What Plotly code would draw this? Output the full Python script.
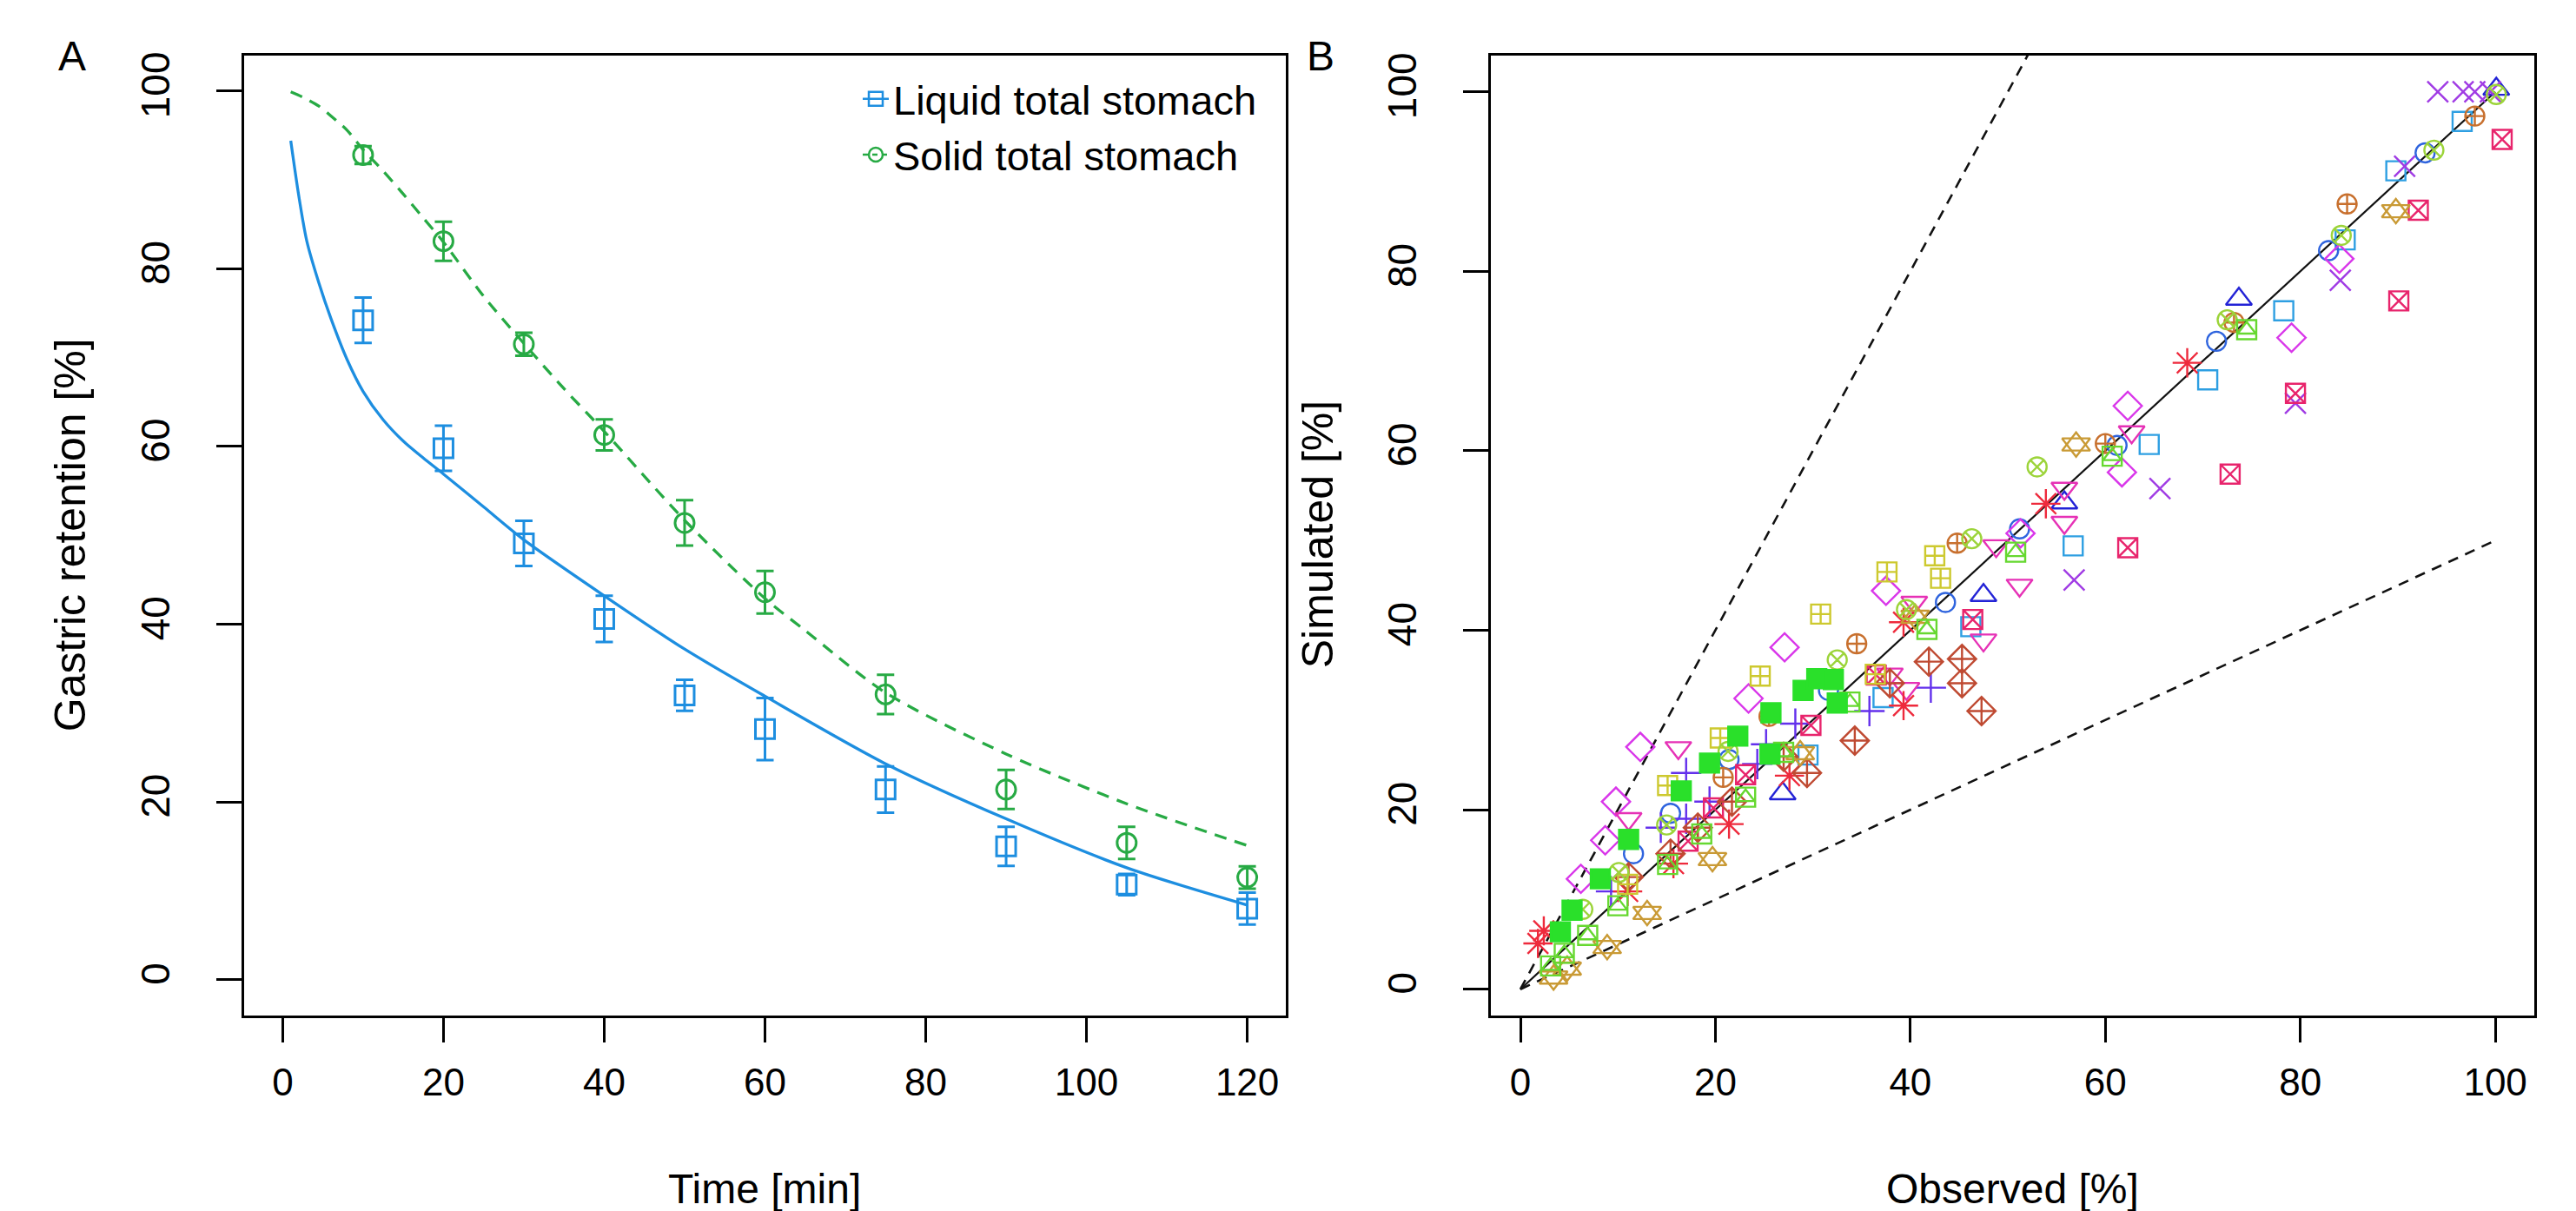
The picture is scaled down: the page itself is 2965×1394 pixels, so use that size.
import plotly.graph_objects as go

# ---------------- Panel A data ----------------
obs_time = [10, 20, 30, 40, 50, 60, 75, 90, 105, 120]
liq_obs = [74.2, 59.8, 49.1, 40.6, 32.0, 28.2, 21.4, 15.0, 10.7, 8.0]
liq_err = [2.55, 2.55, 2.55, 2.6, 1.75, 3.5, 2.6, 2.2, 1.2, 1.8]
sol_obs = [92.8, 83.1, 71.5, 61.3, 51.4, 43.6, 32.1, 21.4, 15.4, 11.5]
sol_err = [1.0, 2.2, 1.3, 1.75, 2.55, 2.4, 2.2, 2.2, 1.8, 1.25]

liq_sim_t = [1, 2, 3, 4.5, 6, 8, 10, 12.5, 15, 17.5, 20, 25, 30, 40, 50, 60, 75, 90, 105, 120]
liq_sim_y = [94.4, 88.2, 83.1, 78.4, 74.4, 69.8, 66.2, 63.0, 60.6, 58.7, 56.9, 53.2, 49.5, 43.2, 37.2, 31.9, 24.3, 18.1, 12.6, 8.4]
sol_sim_t = [1, 2.5, 4.5, 6, 8, 10, 12.5, 15, 17.5, 20, 25, 30, 35, 40, 50, 60, 65, 75, 90, 105, 120]
sol_sim_y = [99.9, 99.3, 98.3, 97.2, 95.6, 93.4, 91.0, 88.4, 85.7, 83.0, 76.9, 71.6, 66.5, 61.7, 51.7, 42.9, 39.3, 32.3, 25.4, 19.8, 15.1]

# ---------------- Panel B data (observed vs simulated) ----------------
s00_x = [29.5, 37.2, 46.2, 56.7, 64.5, 70.5, 78.3, 84.6, 89.8, 96.6]
s00_y = [26.1, 32.5, 40.4, 49.4, 60.7, 67.9, 75.6, 83.5, 91.2, 96.7]
s01_x = [11.6, 15.4, 21.4, 31.6, 43.6, 51.2, 61.2, 71.4, 82.9, 92.8]
s01_y = [15.1, 19.6, 25.6, 33.3, 43.1, 51.3, 60.6, 72.2, 82.3, 93.2]
s02_x = [26.9, 47.5, 55.8, 73.7, 100.1]
s02_y = [21.8, 43.9, 54.2, 76.9, 100.3]
s03_x = [9.3, 14.4, 17.0, 17.0, 19.4, 24.3, 25.2, 28.2, 35.8, 42.1]
s03_y = [10.9, 18.0, 19.0, 24.1, 20.9, 25.1, 27.3, 29.6, 31.0, 33.6]
s04_x = [56.8, 65.6, 79.5, 84.1, 90.7, 94.1, 96.7, 97.9, 99.5]
s04_y = [45.6, 55.8, 65.3, 79.0, 91.7, 100.0, 100.0, 100.0, 100.0]
s05_x = [6.2, 8.7, 9.8, 12.3, 23.4, 27.1, 37.5, 51.3, 61.7, 62.3, 79.1, 84.0]
s05_y = [12.3, 16.6, 20.9, 27.0, 32.4, 38.1, 44.4, 50.8, 57.6, 65.0, 72.6, 81.4]
s06_x = [11.1, 16.2, 37.9, 39.6, 40.4, 47.5, 48.8, 51.2, 55.8, 55.8, 62.7]
s06_y = [19.0, 26.9, 35.1, 33.5, 43.1, 38.9, 49.4, 45.0, 55.8, 52.0, 62.1]
s07_x = [17.2, 19.8, 23.1, 29.8, 36.5, 46.4, 62.3, 72.8, 79.5, 90.1, 92.1, 100.7]
s07_y = [16.5, 20.2, 23.9, 29.4, 35.0, 41.2, 49.2, 57.4, 66.4, 76.7, 86.8, 94.7]
s08_x = [1.8, 2.4, 11.0, 15.7, 21.4, 27.6, 39.3, 39.3, 53.9, 68.4]
s08_y = [5.1, 6.5, 10.9, 14.0, 18.4, 23.8, 31.6, 40.9, 54.1, 69.8]
s09_x = [11.1, 15.4, 18.2, 21.7, 27.0, 29.4, 34.3, 37.9, 41.9, 45.3, 45.3, 47.3]
s09_y = [12.5, 15.1, 18.0, 20.9, 25.9, 24.1, 27.7, 34.1, 36.5, 36.8, 34.1, 31.0]
s10_x = [20.8, 25.5, 34.5, 44.8, 60.0, 73.2, 84.8, 97.9]
s10_y = [23.6, 30.4, 38.5, 49.7, 60.8, 74.3, 87.5, 97.3]
s11_x = [3.4, 4.8, 8.9, 13.0, 19.7, 28.7, 40.5, 57.0, 89.8]
s11_y = [1.3, 2.3, 4.7, 8.5, 14.5, 26.3, 41.5, 60.7, 86.7]
s12_x = [11.0, 15.1, 20.5, 24.6, 30.8, 36.4, 37.6, 42.5, 43.1]
s12_y = [11.7, 22.7, 28.0, 34.9, 41.8, 35.1, 46.5, 48.3, 45.8]
s13_x = [6.4, 10.1, 15.0, 21.3, 32.5, 39.6, 46.3, 53.0, 72.5, 84.2, 93.7, 100.1]
s13_y = [8.9, 13.0, 18.3, 26.5, 36.7, 42.3, 50.2, 58.2, 74.6, 84.0, 93.5, 99.7]
s14_x = [3.1, 4.5, 6.9, 10.0, 15.1, 18.6, 23.1, 27.0, 33.8, 41.7, 50.8, 60.7, 74.5]
s14_y = [2.6, 4.0, 6.0, 9.3, 13.9, 17.3, 21.4, 26.4, 32.0, 40.1, 48.7, 59.4, 73.5]
s15_x = [4.1, 5.3, 8.2, 11.1, 16.5, 19.4, 22.3, 25.6, 25.7, 29.0, 30.4, 32.1, 32.5]
s15_y = [6.4, 8.8, 12.3, 16.7, 22.1, 25.2, 28.2, 26.2, 30.8, 33.3, 34.6, 34.5, 31.9]

ref_x = [0, 100]
ref_ratio = [0.5, 1.0, 2.0]

x_ticks_a = [0, 20, 40, 60, 80, 100, 120]
y_ticks = [0, 20, 40, 60, 80, 100]
x_ticks_b = [0, 20, 40, 60, 80, 100]

# ---------------- styling ----------------
FONT = "Liberation Sans, Arial, Helvetica, sans-serif"
BLUE = "#1d8ee0"
GREEN = "#27aa44"
W, H = 2965, 1394

fig = go.Figure()

# Panel A: simulated curves
fig.add_trace(go.Scatter(x=liq_sim_t, y=liq_sim_y, mode="lines", xaxis="x", yaxis="y",
                         line=dict(color=BLUE, width=3.3, shape="spline", smoothing=0.8),
                         showlegend=False, hoverinfo="skip"))
fig.add_trace(go.Scatter(x=sol_sim_t, y=sol_sim_y, mode="lines", xaxis="x", yaxis="y",
                         line=dict(color=GREEN, width=3.3, dash="14px,10px", shape="spline", smoothing=0.8),
                         showlegend=False, hoverinfo="skip"))
# Panel A: observations with error bars
fig.add_trace(go.Scatter(x=obs_time, y=liq_obs, mode="markers", xaxis="x", yaxis="y",
                         marker=dict(symbol="square-open", size=22, color=BLUE, line=dict(width=3, color=BLUE)),
                         error_y=dict(type="data", array=liq_err, visible=True, color=BLUE, thickness=3, width=10),
                         showlegend=False))
fig.add_trace(go.Scatter(x=obs_time, y=sol_obs, mode="markers", xaxis="x", yaxis="y",
                         marker=dict(symbol="circle-open", size=22, color=GREEN, line=dict(width=3, color=GREEN)),
                         error_y=dict(type="data", array=sol_err, visible=True, color=GREEN, thickness=3, width=10),
                         showlegend=False))
# legend proxies
fig.add_trace(go.Scatter(x=[None], y=[None], mode="lines+markers", xaxis="x", yaxis="y",
                         name="Liquid total stomach",
                         line=dict(color=BLUE, width=2.5),
                         marker=dict(symbol="square-open", size=20, color=BLUE, line=dict(width=2.5, color=BLUE))))
fig.add_trace(go.Scatter(x=[None], y=[None], mode="lines+markers", xaxis="x", yaxis="y",
                         name="Solid total stomach",
                         line=dict(color=GREEN, width=2.5, dash="6px,5px"),
                         marker=dict(symbol="circle-open", size=20, color=GREEN, line=dict(width=2.5, color=GREEN))))

# Panel B: reference lines
for r in ref_ratio:
    fig.add_trace(go.Scatter(x=ref_x, y=[v * r for v in ref_x], mode="lines", xaxis="x2", yaxis="y2",
                             line=dict(color="#111111", width=2.2 if r == 1.0 else 2.6,
                                       dash="solid" if r == 1.0 else "12px,9px"),
                             showlegend=False, hoverinfo="skip"))

series = [
    (s00_x, s00_y, ["square-open"], "#2e9fe2", [22]),
    (s01_x, s01_y, ["circle-open"], "#2f64de", [22]),
    (s02_x, s02_y, ["triangle-up-open"], "#2323d6", [26]),
    (s03_x, s03_y, ["cross-thin-open"], "#6330ec", [25]),
    (s04_x, s04_y, ["x-thin-open"], "#a03be4", [24]),
    (s05_x, s05_y, ["diamond-open"], "#d936ea", [25]),
    (s06_x, s06_y, ["triangle-down-open"], "#e631b6", [26]),
    (s07_x, s07_y, ["square-x-open"], "#e8246c", [22]),
    (s08_x, s08_y, ["asterisk-open"], "#ee2a3c", [28]),
    (s09_x, s09_y, ["diamond-cross-open"], "#bf4a32", [25]),
    (s10_x, s10_y, ["circle-cross-open"], "#c8702e", [22]),
    (s11_x, s11_y, ["triangle-up-open", "triangle-down-open"], "#c99a35", [28, 28]),
    (s12_x, s12_y, ["square-cross-open"], "#cdc92f", [22]),
    (s13_x, s13_y, ["circle-x-open"], "#9cd43a", [22]),
    (s14_x, s14_y, ["square-open", "triangle-up-open"], "#66d830", [22, 18]),
    (s15_x, s15_y, ["square"], "#2ae02a", [22]),
]
for xs, ys, syms, col, sizes in series:
    for sym, sz in zip(syms, sizes):
        fig.add_trace(go.Scatter(x=xs, y=ys, mode="markers", xaxis="x2", yaxis="y2",
                                 marker=dict(symbol=sym, size=sz, color=col,
                                             line=dict(width=2.4, color=col)),
                                 showlegend=False))

# ---------------- layout ----------------
ydom = [1 - 1160 / H, 1 - 52 / H]
axis_common = dict(showline=True, mirror=True, linecolor="black", linewidth=2.6,
                   ticks="outside", ticklen=29, tickwidth=2.6, tickcolor="black",
                   showgrid=False, zeroline=False)
xfont = dict(family=FONT, size=44, color="black")
yfont = dict(family=FONT, size=46, color="black")

fig.update_layout(
    width=W, height=H,
    margin=dict(l=0, r=0, t=0, b=0),
    paper_bgcolor="white", plot_bgcolor="white",
    font=dict(family=FONT, color="black"),
    xaxis=dict(domain=[273 / W, 1472 / W], range=[-4.8, 124.8], tickvals=x_ticks_a,
               ticklabelstandoff=8, tickfont=xfont, anchor="y", **axis_common),
    yaxis=dict(domain=ydom, range=[-4, 104], tickvals=y_ticks, tickangle=-90,
               ticklabelstandoff=36, tickfont=yfont, anchor="x", **axis_common),
    xaxis2=dict(domain=[1708 / W, 2909 / W], range=[-3.03, 104.0], tickvals=x_ticks_b,
                ticklabelstandoff=8, tickfont=xfont, anchor="y2", **axis_common),
    yaxis2=dict(domain=ydom, range=[-2.9, 104.05], tickvals=y_ticks, tickangle=-90,
                ticklabelstandoff=36, tickfont=yfont, anchor="x2", **axis_common),
    legend=dict(x=980 / W, y=1 - 65 / H, xanchor="left", yanchor="top",
                bgcolor="rgba(0,0,0,0)", borderwidth=0,
                font=dict(family=FONT, size=47, color="black"),
                itemwidth=30, tracegroupgap=0),
    showlegend=True,
)

ann_font = dict(family=FONT, size=48, color="black")
rot_font = dict(family=FONT, size=50, color="black")
annotations = [
    dict(text="A", x=75 / W, y=1 - 53 / H, font=ann_font),
    dict(text="B", x=1512 / W, y=1 - 53 / H, font=ann_font),
    dict(text="Time [min]", x=872 / W, y=1 - 1360 / H, font=ann_font),
    dict(text="Observed [%]", x=2308 / W, y=1 - 1360 / H, font=ann_font),
    dict(text="Gastric retention [%]", x=73 / W, y=1 - 606 / H, textangle=-90, font=rot_font),
    dict(text="Simulated [%]", x=1509 / W, y=1 - 605 / H, textangle=-90, font=rot_font),
]
for a in annotations:
    a.update(xref="paper", yref="paper", showarrow=False, xanchor="center", yanchor="middle")
fig.update_layout(annotations=annotations)

fig.write_html("out.html")
